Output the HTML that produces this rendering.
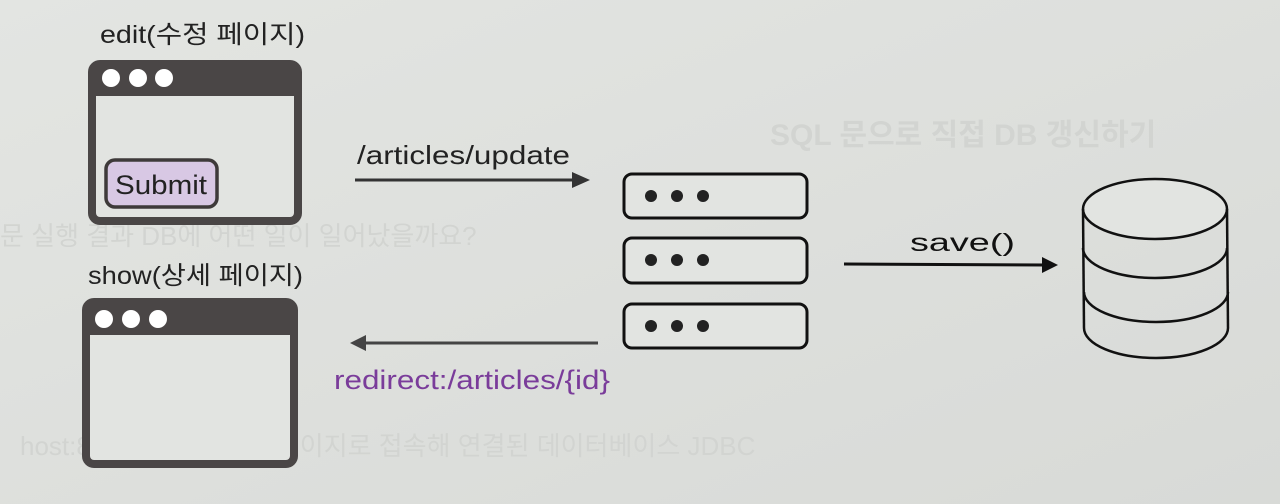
<!DOCTYPE html>
<html><head><meta charset="utf-8"><style>
html,body{margin:0;padding:0;background:#dddfdc;}
svg{display:block;}
text{font-family:"Liberation Sans","Noto Sans CJK KR",sans-serif;}
</style></head><body>
<svg width="1280" height="504" viewBox="0 0 1280 504" xmlns="http://www.w3.org/2000/svg">
<defs>
<linearGradient id="bg" x1="0" y1="0" x2="1" y2="1">
<stop offset="0" stop-color="#e3e5e2"/><stop offset="1" stop-color="#d8dad7"/>
</linearGradient>
</defs>
<rect width="1280" height="504" fill="url(#bg)"/>
<!-- faint bleed-through text -->
<g fill="#d2d4d1" font-size="30" font-weight="bold">
<text x="770" y="145">SQL 문으로 직접 DB 갱신하기</text>
<text x="0" y="245" font-size="26" font-weight="normal">문 실행 결과 DB에 어떤 일이 일어났을까요?</text>
<text x="20" y="455" font-size="26" font-weight="normal">host:8080/h2-console 페이지로 접속해 연결된 데이터베이스 JDBC</text>
</g>
<!-- edit window -->
<text x="100" y="43" font-size="25" fill="#222" textLength="205" lengthAdjust="spacingAndGlyphs">edit(수정 페이지)</text>
<rect x="92" y="64" width="206" height="157" rx="8" fill="#e2e4e1" stroke="#4a4646" stroke-width="8"/>
<rect x="92" y="64" width="206" height="32" fill="#4a4646"/>
<circle cx="111" cy="78" r="9" fill="#fff"/>
<circle cx="138" cy="78" r="9" fill="#fff"/>
<circle cx="164" cy="78" r="9" fill="#fff"/>
<rect x="106" y="160" width="111" height="47" rx="9" fill="#d8c8e4" stroke="#3e3a3a" stroke-width="3.5"/>
<text x="115" y="194" font-size="27" fill="#222" textLength="92" lengthAdjust="spacingAndGlyphs">Submit</text>
<!-- show window -->
<text x="88" y="284" font-size="25" fill="#222" textLength="215" lengthAdjust="spacingAndGlyphs">show(상세 페이지)</text>
<rect x="86" y="302" width="208" height="162" rx="8" fill="#e2e4e1" stroke="#4a4646" stroke-width="8"/>
<rect x="86" y="302" width="208" height="33" fill="#4a4646"/>
<circle cx="104" cy="319" r="9" fill="#fff"/>
<circle cx="131" cy="319" r="9" fill="#fff"/>
<circle cx="158" cy="319" r="9" fill="#fff"/>
<!-- arrow update -->
<text x="357" y="164" font-size="26" fill="#222" textLength="213" lengthAdjust="spacingAndGlyphs">/articles/update</text>
<line x1="355" y1="180" x2="575" y2="180" stroke="#333" stroke-width="3"/>
<polygon points="572,172 590,180 572,188" fill="#333"/>
<!-- servers -->
<g stroke="#111" stroke-width="3" fill="#e2e4e1">
<rect x="624" y="174" width="183" height="44" rx="8"/>
<rect x="624" y="238" width="183" height="45" rx="8"/>
<rect x="624" y="304" width="183" height="44" rx="8"/>
</g>
<g fill="#222">
<circle cx="651" cy="196" r="6"/><circle cx="677" cy="196" r="6"/><circle cx="703" cy="196" r="6"/>
<circle cx="651" cy="260" r="6"/><circle cx="677" cy="260" r="6"/><circle cx="703" cy="260" r="6"/>
<circle cx="651" cy="326" r="6"/><circle cx="677" cy="326" r="6"/><circle cx="703" cy="326" r="6"/>
</g>
<!-- redirect arrow -->
<line x1="598" y1="343" x2="362" y2="343" stroke="#444" stroke-width="3"/>
<polygon points="366,335 350,343 366,351" fill="#444"/>
<text x="334" y="389" font-size="27" fill="#7a3c9a" textLength="276" lengthAdjust="spacingAndGlyphs">redirect:/articles/{id}</text>
<!-- save arrow -->
<text x="910" y="251" font-size="25" fill="#111" textLength="105" lengthAdjust="spacingAndGlyphs">save()</text>
<line x1="844" y1="264" x2="1045" y2="265" stroke="#111" stroke-width="3"/>
<polygon points="1042,257 1058,265 1042,273" fill="#111"/>
<!-- DB -->
<g stroke="#111" stroke-width="2.5" fill="none">
<ellipse cx="1155" cy="209" rx="72" ry="30" fill="#e2e4e1"/>
<line x1="1083" y1="209" x2="1084" y2="328"/>
<line x1="1227" y1="209" x2="1228" y2="328"/>
<path d="M1083,248 A72,30 0 0 0 1227,248"/>
<path d="M1084,292 A72,30 0 0 0 1228,292"/>
<path d="M1084,328 A72,30 0 0 0 1228,328"/>
</g>
</svg>
</body></html>
